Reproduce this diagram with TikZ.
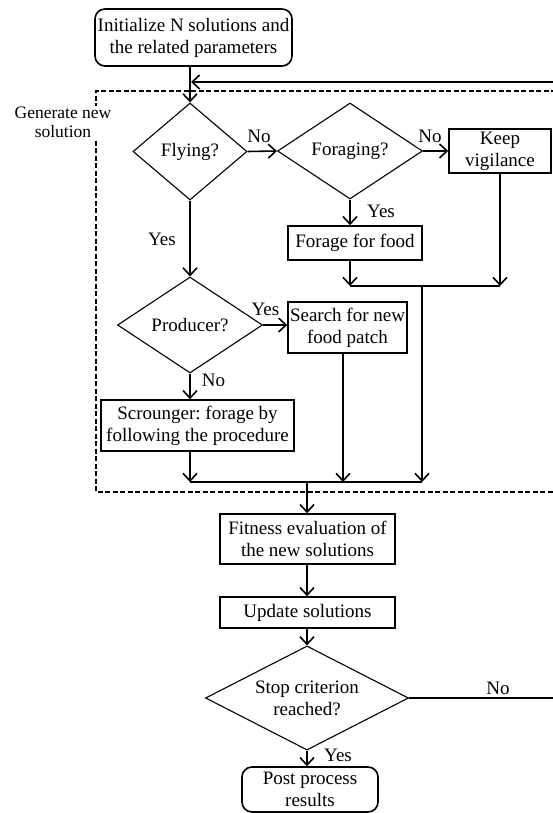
\documentclass[tikz,border=0pt]{standalone}
\usepackage{fontspec}
\setmainfont{Liberation Serif}
\usetikzlibrary{shapes.geometric,arrows.meta}
\frenchspacing
\begin{document}
\begin{tikzpicture}[x=1pt,y=-1pt,
  every node/.style={font=\fontsize{19}{22}\selectfont, align=center},
  box/.style={draw, line width=1.6pt, inner sep=0pt},
  rbox/.style={box, rounded corners=10pt},
  decision/.style={draw, diamond, line width=1.1pt, inner sep=0pt, aspect=1.5},
  lab/.style={inner sep=0pt},
  conn/.style={line width=1.6pt},
  arr/.style={conn, -{Straight Barb[length=7.5pt,width=14pt]}},
  region/.style={line width=1.3pt, dash pattern=on 5pt off 2.5pt}
]
\useasboundingbox (0,0) rectangle (552,813);

% region
\draw[region] (556,91) -- (96,91) -- (96,492) -- (556,492);
\node[lab, fill=white, inner sep=1pt, font=\fontsize{17.5}{19}\selectfont] (gen) at (63,122) {Generate new\\solution};

% nodes
\node[rbox, minimum width=197pt, minimum height=57pt] (init) at (193.5,37.5) {Initialize N solutions and\\the related parameters};
\node[decision, minimum width=114pt, minimum height=97pt] (flying) at (190,151.5) {Flying?};
\node[decision, minimum width=145pt, minimum height=96pt] (foraging) at (350,151) {Foraging?};
\node[box, minimum width=102pt, minimum height=44pt] (keep) at (500,151) {Keep\\vigilance};
\node[box, minimum width=134pt, minimum height=34pt] (forage) at (355,243) {Forage for food};
\node[decision, minimum width=145pt, minimum height=96pt] (producer) at (190,325) {Producer?};
\node[box, minimum width=119pt, minimum height=51pt] (search) at (347.5,327.5) {Search for new\\food patch};
\node[box, minimum width=193pt, minimum height=51pt] (scrounger) at (197.5,425.5) {Scrounger: forage by\\following the procedure};
\node[box, minimum width=175pt, minimum height=50pt] (fitness) at (307.5,539) {Fitness evaluation of\\the new solutions};
\node[box, minimum width=175pt, minimum height=31pt] (update) at (307.5,612.5) {Update solutions};
\node[decision, minimum width=203pt, minimum height=96pt] (stop) at (307,698) {Stop criterion\\reached?};
\node[rbox, minimum width=136pt, minimum height=45pt] (post) at (310,789.5) {Post process\\results};

% junction coordinates
\coordinate (j1l) at (350,286);
\coordinate (j1r) at (500,286);
\coordinate (j1m) at (422,286);
\coordinate (j2l) at (190,482);
\coordinate (j2s) at (343,482);
\coordinate (j2r) at (422,482);
\coordinate (j2m) at (307,482);
\coordinate (fbA) at (556,698);
\coordinate (fbB) at (556,82);
\coordinate (fbC) at (191,82);

% connectors
\draw[arr] (init.south -| flying) -- (flying.north);
\draw[arr] (flying.east) -- (foraging.west);
\draw[arr] (foraging.east) -- (keep.west);
\draw[arr] (foraging.south) -- (foraging.south |- forage.north);
\draw[arr] (flying.south) -- (producer.north);
\draw[arr] (producer.east) -- (producer.east -| search.west);
\draw[arr] (producer.south) -- (producer.south |- scrounger.north);
\draw[arr] (j1l |- forage.south) -- (j1l);
\draw[arr] (keep.south) -- (j1r);
\draw[conn] (j1l) -- (j1r);
\draw[arr] (j1m) -- (j2r);
\draw[arr] (j2l |- scrounger.south) -- (j2l);
\draw[arr] (j2s |- search.south) -- (j2s);
\draw[conn] (j2l) -- (j2r);
\draw[arr] (j2m) -- (j2m |- fitness.north);
\draw[arr] (fitness.south -| j2m) -- (update.north -| j2m);
\draw[arr] (update.south -| stop) -- (stop.north);
\draw[arr] (stop.south) -- (stop.south |- post.north);
\draw[arr] (stop.east) -- (fbA) -- (fbB) -- (fbC);

% labels
\node[lab] (l1) at (259,136) {No};
\node[lab] (l2) at (430,136) {No};
\node[lab] (l3) at (381,211) {Yes};
\node[lab] (l4) at (162,239) {Yes};
\node[lab] (l5) at (265.5,309) {Yes};
\node[lab] (l6) at (213.5,380) {No};
\node[lab] (l7) at (498,688) {No};
\node[lab] (l8) at (338,755) {Yes};
\end{tikzpicture}
\end{document}
